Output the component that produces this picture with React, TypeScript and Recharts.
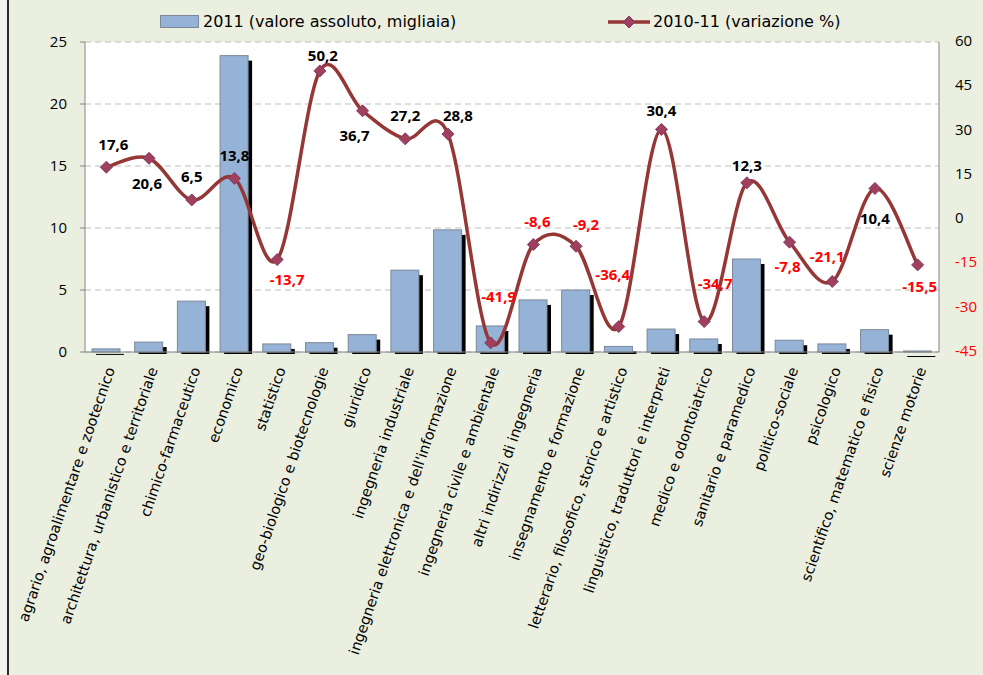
import { ComposedChart, Bar, Line, XAxis, YAxis, CartesianGrid, LabelList } from "recharts";

const categories = [
  "agrario, agroalimentare e zootecnico",
  "architettura, urbanistico e territoriale",
  "chimico-farmaceutico",
  "economico",
  "statistico",
  "geo-biologico e biotecnologie",
  "giuridico",
  "ingegneria industriale",
  "ingegneria elettronica e dell'informazione",
  "ingegneria civile e ambientale",
  "altri indirizzi di ingegneria",
  "insegnamento e formazione",
  "letterario, filosofico, storico e artistico",
  "linguistico, traduttori e interpreti",
  "medico e odontoiatrico",
  "sanitario e paramedico",
  "politico-sociale",
  "psicologico",
  "scientifico, matematico e fisico",
  "scienze motorie",
];

// 2011, valore assoluto (migliaia)
const absolute2011 = [0.25, 0.8, 4.1, 23.9, 0.65, 0.75, 1.4, 6.6, 9.85, 2.1, 4.2, 5.0, 0.45, 1.85, 1.05, 7.5, 0.95, 0.65, 1.8, 0.08];

// 2010-11, variazione %
const change = [17.6, 20.6, 6.5, 13.8, -13.7, 50.2, 36.7, 27.2, 28.8, -41.9, -8.6, -9.2, -36.4, 30.4, -34.7, 12.3, -7.8, -21.1, 10.4, -15.5];

const leftTicks = [0, 5, 10, 15, 20, 25];
const rightTicks = [-45, -30, -15, 0, 15, 30, 45, 60];

// label nudges (dx, dy) relative to each marker
const labelNudge: [number, number][] = [
  [7, -21], [-2, 27], [0, -22], [0, -21], [10, 21], [3, -14], [-8, 26], [0, -22], [10, -17], [8, -45],
  [4, -22], [10, -20], [-6, -51], [0, -17], [11, -37], [0, -16], [-2, 26], [-5, -23], [0, 32], [2, 23],
];

const data = categories.map((name, i) => ({ name, abs: absolute2011[i], pct: change[i] }));

const COLORS = {
  bg: "#EBEFDF",
  bar: "#95B3D7",
  barStroke: "#7C8797",
  line: "#953735",
  marker: "#A0405A",
  markerStroke: "#7E3B73",
  grid: "#BFBFBF",
  axis: "#868686",
  neg: "#FF0000",
};

const TICK_FONT = "'Open Sans', 'Liberation Sans', sans-serif";
const CAT_FONT = "'Comic Sans MS', 'DejaVu Sans', sans-serif";

// Excel-like smoothed line (Catmull-Rom through the points)
function excelSmooth(context: any) {
  let pts: [number, number][] = [];
  return {
    areaStart() {},
    areaEnd() {},
    lineStart() {
      pts = [];
    },
    lineEnd() {
      const n = pts.length;
      if (!n) return;
      context.moveTo(pts[0][0], pts[0][1]);
      for (let i = 0; i < n - 1; i++) {
        const p0 = pts[Math.max(i - 1, 0)];
        const p1 = pts[i];
        const p2 = pts[i + 1];
        const p3 = pts[Math.min(i + 2, n - 1)];
        context.bezierCurveTo(
          p1[0] + (p2[0] - p0[0]) / 6,
          p1[1] + (p2[1] - p0[1]) / 6,
          p2[0] - (p3[0] - p1[0]) / 6,
          p2[1] - (p3[1] - p1[1]) / 6,
          p2[0],
          p2[1]
        );
      }
    },
    point(x: number, y: number) {
      pts.push([+x, +y]);
    },
  };
}

const ShadowBar = (props: any) => {
  const { x, y, width, height } = props;
  if (!height || height <= 0) return null;
  return (
    <g>
      <rect x={x + 4} y={y + 5} width={width} height={Math.max(height - 3, 1)} fill="#000" />
      <rect x={x} y={y} width={width} height={height} fill={COLORS.bar} stroke={COLORS.barStroke} strokeWidth={1} />
    </g>
  );
};

const Diamond = (props: any) => {
  const { cx, cy } = props;
  if (cx == null || cy == null) return null;
  const r = 6;
  return (
    <path
      d={`M${cx},${cy - r} L${cx + r},${cy} L${cx},${cy + r} L${cx - r},${cy} Z`}
      fill={COLORS.marker}
      stroke={COLORS.markerStroke}
      strokeWidth={1}
    />
  );
};

const CategoryTick = ({ x, y, payload }: any) => (
  <text
    transform={`translate(${x + 5},${y + 8}) rotate(-71)`}
    textAnchor="end"
    dominantBaseline="middle"
    fontFamily={CAT_FONT}
    fontSize={14.5}
    fill="#000"
  >
    {payload.value}
  </text>
);

const RightTick = ({ x, y, payload }: any) => (
  <text x={x} y={y} textAnchor="start" dominantBaseline="middle" fontFamily={TICK_FONT} fontSize={15} fill={payload.value < 0 ? COLORS.neg : "#000"}>
    {payload.value}
  </text>
);

const PointLabel = (props: any) => {
  const { x, y, index, value } = props;
  const [dx, dy] = labelNudge[index] || [0, -20];
  return (
    <text
      x={x + dx}
      y={y + dy}
      textAnchor="middle"
      dominantBaseline="middle"
      fontFamily={TICK_FONT}
      fontWeight="bold"
      fontSize={15}
      fill={value < 0 ? COLORS.neg : "#000"}
    >
      {String(value).replace(".", ",")}
    </text>
  );
};

const legendText = { fontFamily: CAT_FONT, fontSize: 16, color: "#000", whiteSpace: "nowrap" as const };

export default function App() {
  return (
    <div style={{ position: "absolute", left: 0, top: 0, width: 983, height: 675, background: "#F4F2EC", overflow: "hidden" }}>
      <div style={{ position: "absolute", left: 7, top: 0, width: 2, height: 675, background: "#2B2B2B" }} />
      <div style={{ position: "absolute", left: 9, top: 0, width: 974, height: 675, background: COLORS.bg }} />

      <div style={{ position: "absolute", left: 0, top: 0 }}>
        <ComposedChart width={983} height={675} data={data} margin={{ top: 42, right: 0, bottom: 293, left: 0 }}>
          <CartesianGrid yAxisId="left" vertical={false} strokeDasharray="6 4" stroke={COLORS.grid} fill="#FFFFFF" />
          <XAxis
            dataKey="name"
            interval={0}
            height={30}
            tick={<CategoryTick />}
            tickLine={false}
            axisLine={{ stroke: COLORS.axis }}
          />
          <YAxis
            yAxisId="left"
            width={85}
            domain={[0, 25]}
            ticks={leftTicks}
            tickSize={5}
            tickMargin={13}
            tick={{ fontFamily: TICK_FONT, fontSize: 15, fill: "#000" }}
            tickLine={{ stroke: COLORS.axis }}
            axisLine={{ stroke: COLORS.axis }}
          />
          <YAxis
            yAxisId="right"
            orientation="right"
            width={44}
            domain={[-45, 60]}
            ticks={rightTicks}
            tickSize={0}
            tickMargin={16}
            tick={<RightTick />}
            tickLine={false}
            axisLine={{ stroke: COLORS.axis }}
          />
          <Bar yAxisId="left" dataKey="abs" barSize={28} shape={<ShadowBar />} isAnimationActive={false} />
          <Line
            yAxisId="right"
            dataKey="pct"
            type={excelSmooth as any}
            stroke={COLORS.line}
            strokeWidth={3.5}
            dot={<Diamond />}
            activeDot={false}
            isAnimationActive={false}
          >
            <LabelList dataKey="pct" content={<PointLabel />} />
          </Line>
        </ComposedChart>
      </div>

      <div style={{ position: "absolute", top: 12, left: 160, display: "flex", alignItems: "center", ...legendText }}>
        <div style={{ width: 37, height: 11, background: COLORS.bar, border: `1px solid ${COLORS.barStroke}`, marginRight: 4 }} />
        <span>2011 (valore assoluto, migliaia)</span>
      </div>
      <div style={{ position: "absolute", top: 12, left: 607, display: "flex", alignItems: "center", ...legendText }}>
        <svg width={44} height={14}>
          <line x1={1} y1={7} x2={43} y2={7} stroke={COLORS.line} strokeWidth={3.5} />
          <path d="M22,1 L28,7 L22,13 L16,7 Z" fill={COLORS.marker} stroke={COLORS.markerStroke} strokeWidth={1} />
        </svg>
        <span style={{ marginLeft: 2 }}>2010-11 (variazione %)</span>
      </div>
    </div>
  );
}
